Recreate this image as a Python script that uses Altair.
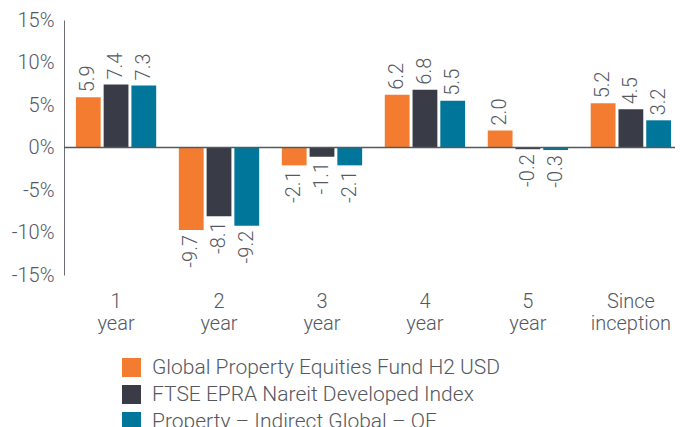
import altair as alt
import pandas as pd

periods = ["1 year", "2 year", "3 year", "4 year", "5 year", "Since inception"]
series = [
    "Global Property Equities Fund H2 USD",
    "FTSE EPRA Nareit Developed Index",
    "Property \u2013 Indirect Global \u2013 OE",
]
fund = [5.9, -9.7, -2.1, 6.2, 2.0, 5.2]
index = [7.4, -8.1, -1.1, 6.8, -0.2, 4.5]
sector = [7.3, -9.2, -2.1, 5.5, -0.3, 3.2]
colors = ["#F37C30", "#393C46", "#00779A"]

rows = []
for s, vals in zip(series, [fund, index, sector]):
    for p, v in zip(periods, vals):
        rows.append({"period": p, "series": s, "value": v, "label": f"{v:.1f}"})
df = pd.DataFrame(rows)

FONT = "Roboto"
TXT = "#54585F"

x = alt.X("period:N", sort=periods, title=None,
          scale=alt.Scale(paddingInner=0.22, paddingOuter=0.077, align=0.75),
          axis=alt.Axis(labelAngle=0, domain=False, ticks=False,
                        labelExpr="split(datum.label, ' ')",
                        labelLineHeight=22, labelPadding=16,
                        labelFont=FONT, labelFontSize=20, labelFontWeight=300,
                        labelColor=TXT))
xo = alt.XOffset("series:N", sort=series,
                 scale=alt.Scale(paddingInner=0.107, paddingOuter=0))
y = alt.Y("value:Q", title=None,
          scale=alt.Scale(domain=[-15, 15], nice=False),
          axis=alt.Axis(values=[-15, -10, -5, 0, 5, 10, 15], grid=False, ticks=False,
                        labelExpr="datum.value + '%'", labelPadding=10,
                        labelFont=FONT, labelFontSize=20, labelFontWeight=300,
                        labelColor=TXT, domainColor="#6B6E73", domainWidth=1))
color = alt.Color("series:N", sort=series,
                  scale=alt.Scale(domain=series, range=colors),
                  legend=alt.Legend(title=None, orient="none", legendX=57, legendY=337,
                                    direction="vertical", symbolType="square",
                                    symbolSize=361, symbolStrokeWidth=0,
                                    rowPadding=5, labelOffset=10,
                                    labelFont=FONT, labelFontSize=21, labelFontWeight=300,
                                    labelColor=TXT, labelLimit=600))

base = alt.Chart(df)
bars = base.mark_bar().encode(x=x, xOffset=xo, y=y, color=color)

pos = base.transform_filter("datum.value >= 0").mark_text(
    angle=270, align="left", baseline="middle", dx=5,
    font=FONT, fontSize=20, fontWeight=300, color=TXT
).encode(x=x, xOffset=xo, y=y, text="label:N")
neg = base.transform_filter("datum.value < 0").mark_text(
    angle=270, align="right", baseline="middle", dx=-5,
    font=FONT, fontSize=20, fontWeight=300, color=TXT
).encode(x=x, xOffset=xo, y=y, text="label:N")

zero = alt.Chart(pd.DataFrame({"z": [0]})).mark_rule(color="#55585E", strokeWidth=1.5).encode(
    y=alt.Y("z:Q", scale=alt.Scale(domain=[-15, 15], nice=False))
)

chart = alt.layer(bars, zero, pos, neg).properties(
    width=611, height=255,
    autosize=alt.AutoSizeParams(type="none"),
    padding={"left": 56, "top": 12, "right": 0, "bottom": 152},
).configure_view(stroke=None)

chart.save("out.html", embed_options={"renderer": "svg", "actions": False})
